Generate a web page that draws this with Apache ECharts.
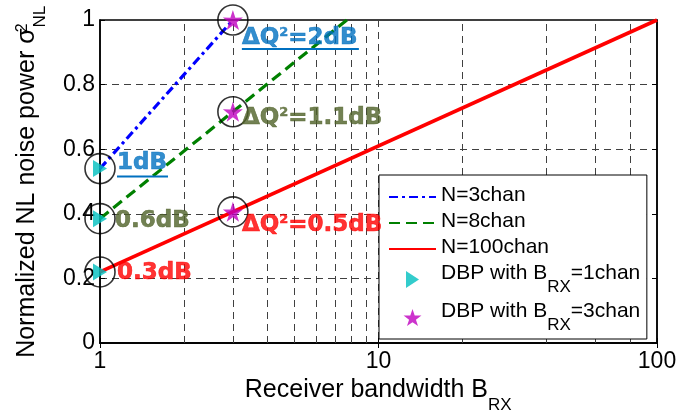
<!DOCTYPE html>
<html><head><meta charset="utf-8">
<script src="https://cdn.jsdelivr.net/npm/echarts@6/dist/echarts.min.js"></script>
<style>html,body{margin:0;padding:0;background:#fff}#c{width:678px;height:411px}</style>
</head><body><div id="c"></div>
<script>
// ---- data ----
const xTicks = [1, 10, 100];
const yTicks = [0, 0.2, 0.4, 0.6, 0.8, 1];
const minorGridX = [2, 3, 4, 5, 6, 7, 8, 9, 20, 40, 60, 80];
const n3 = [[1, 0.54], [3, 1.0]];
const n8 = [[1, 0.385], [7.7, 1.0]];
const n100 = [[1, 0.22], [100, 1.0]];
const dbp1 = [[1, 0.54], [1, 0.385], [1, 0.22]];
const dbp3 = [[3, 1.0], [3, 0.716], [3, 0.406]];
const dbp1Labels = ['1dB', '0.6dB', '0.3dB'];
const dbp3Labels = ['2dB', '1.1dB', '0.5dB'];

// ---- styles / layout ----
const axisFont = '"Liberation Sans", Arial, sans-serif';
const annFont = '"DejaVu Sans", sans-serif';
const annColors = ['#0070C0', '#4F6228', '#FF0000'];
const dbp1Offsets = [[17, -6], [15, 2], [17, 1]];
const dbp3Offsets = [[9, 18], [9, 6], [9, 13]];
const starPath = 'path://M50,0 L61.8,35.1 L97.6,34.5 L68.2,56.9 L79.4,90.5 L50,70 L20.6,90.5 L31.8,56.9 L2.4,34.5 L38.2,35.1 Z';
const triRightPath = 'path://M0,0 L13,8.5 L0,17 Z';
const gridLine = { type: [7, 5], color: '#404040', width: 1 };

function annLabel(text, i, off, withSup) {
  const c = annColors[i];
  return {
    show: true, position: 'inside', align: 'left', verticalAlign: 'middle',
    offset: off, color: c, fontFamily: annFont, fontWeight: 'bold', fontSize: 23,
    textBorderColor: c, textBorderWidth: 0.6,
    formatter: withSup ? ('ΔQ{sup|2}=' + text) : text,
    rich: { sup: { fontSize: 13, fontWeight: 'bold', fontFamily: annFont, color: c,
      textBorderColor: c, textBorderWidth: 0.4, verticalAlign: 'top', lineHeight: 12 } }
  };
}

const chart = echarts.init(document.getElementById('c'));
const baseY = {
  type: 'value', min: 0, max: 1, interval: 0.2,
  axisLine: { show: true, lineStyle: { color: '#000', width: 1.5 } },
  axisTick: { show: true, inside: true, length: 5, lineStyle: { color: '#000' } },
};
const option = {
  animation: false,
  backgroundColor: '#fff',
  grid: { left: 100, right: 21, top: 20, bottom: 68, show: true, borderColor: '#000', borderWidth: 1.5,
    outerBoundsMode: 'none', containLabel: false },
  xAxis: [{
    type: 'log', logBase: 10, min: 1, max: 100, position: 'bottom',
    axisLine: { show: true, lineStyle: { color: '#000', width: 1.5 } },
    axisTick: { show: true, inside: true, length: 5, lineStyle: { color: '#000' } },
    axisLabel: { color: '#000', fontFamily: axisFont, fontSize: 23, margin: 7,
      formatter: v => xTicks.includes(v) ? String(v) : '' },
    splitLine: { show: true, lineStyle: gridLine },
    name: '{n|Receiver bandwidth B}{sub|RX}{sp| }', nameLocation: 'middle', nameGap: 24,
    nameTextStyle: { rich: {
      n: { fontFamily: axisFont, fontSize: 25, color: '#000', lineHeight: 28, verticalAlign: 'top' },
      sub: { fontFamily: axisFont, fontSize: 17, color: '#000', lineHeight: 18, verticalAlign: 'bottom' },
      sp: { fontSize: 2, lineHeight: 36, verticalAlign: 'top' }
    } }
  }, {
    type: 'log', logBase: 10, min: 1, max: 100, position: 'top',
    axisLine: { show: true, lineStyle: { color: '#000', width: 1.5 } },
    axisTick: { show: true, inside: true, length: 5, lineStyle: { color: '#000' } },
    axisLabel: { show: false }, splitLine: { show: false }
  }],
  yAxis: [Object.assign({}, baseY, {
    position: 'left',
    axisLabel: { color: '#000', fontFamily: axisFont, fontSize: 23, margin: 5,
      formatter: v => String(yTicks.find(t => Math.abs(t - v) < 1e-9)) },
    splitLine: { show: true, lineStyle: gridLine },
    name: '{n|Normalized NL noise power σ}{sup|2}{sub|NL}{sp| }', nameLocation: 'middle', nameGap: 51,
    nameTextStyle: { rich: {
      n: { fontFamily: axisFont, fontSize: 25, color: '#000', lineHeight: 28, verticalAlign: 'top' },
      sup: { fontFamily: axisFont, fontSize: 16, color: '#000', lineHeight: 8, verticalAlign: 'top', width: 1 },
      sub: { fontFamily: axisFont, fontSize: 17, color: '#000', lineHeight: 18, verticalAlign: 'bottom' },
      sp: { fontSize: 2, lineHeight: 34, verticalAlign: 'top' }
    } }
  }), Object.assign({}, baseY, {
    position: 'right', axisLabel: { show: false }, splitLine: { show: false }
  })],
  legend: {
    orient: 'vertical', left: 379, top: 175,
    data: [
      { name: 'N=3chan', itemStyle: { opacity: 0 } },
      { name: 'N=8chan', itemStyle: { opacity: 0 } },
      { name: 'N=100chan', itemStyle: { opacity: 0 } },
      { name: 'DBP with B_RX=1chan', icon: triRightPath },
      { name: 'DBP with B_RX=3chan', icon: starPath }
    ],
    itemWidth: 47, itemHeight: 17, itemGap: 5,
    padding: [10, 6, 5, 9],
    backgroundColor: '#fff', borderColor: '#000', borderWidth: 1, borderRadius: 0,
    selectedMode: false,
    formatter: name => {
      if (name.indexOf('B_RX') >= 0) {
        const parts = name.split('B_RX');
        return '{n|' + parts[0] + 'B}{sub|RX}{n|' + parts[1] + '}{sp| }';
      }
      return '{n|' + name + '}';
    },
    textStyle: { rich: {
      n: { fontFamily: axisFont, fontSize: 21, color: '#000', lineHeight: 24, verticalAlign: 'top' },
      sub: { fontFamily: axisFont, fontSize: 17, color: '#000', lineHeight: 20, verticalAlign: 'bottom' },
      sp: { fontSize: 2, lineHeight: 33, verticalAlign: 'top' }
    } }
  },
  series: [
    { name: 'N=3chan', type: 'line', data: n3, symbol: 'none', showSymbol: false,
      lineStyle: { color: '#0000FF', width: 3.2, type: [9, 4, 3, 4] }, itemStyle: { color: '#0000FF' }, z: 3 },
    { name: 'N=8chan', type: 'line', data: n8, symbol: 'none', showSymbol: false,
      lineStyle: { color: '#008000', width: 3.2, type: [11, 6] }, itemStyle: { color: '#008000' }, z: 3 },
    { name: 'N=100chan', type: 'line', data: n100, symbol: 'none', showSymbol: false,
      lineStyle: { color: '#FF0000', width: 3.6, type: 'solid' }, itemStyle: { color: '#FF0000' }, z: 3,
      markLine: { silent: true, symbol: ['none', 'none'], label: { show: false }, lineStyle: gridLine,
        emphasis: { disabled: true }, z: 1,
        data: minorGridX.map(v => ({ xAxis: v })) } },
    { name: 'circles', type: 'scatter', data: dbp1.concat(dbp3), symbol: 'circle', symbolSize: 30,
      itemStyle: { color: 'rgba(0,0,0,0)', borderColor: '#000', borderWidth: 1.6 }, z: 4, silent: true },
    { name: 'DBP with B_RX=1chan', type: 'scatter', symbol: 'triangle', symbolSize: [17, 14], symbolRotate: -90,
      itemStyle: { color: '#00BFBF' }, z: 5,
      data: dbp1.map((p, i) => ({ value: p, label: annLabel(dbp1Labels[i], i, dbp1Offsets[i], false) })) },
    { name: 'DBP with B_RX=3chan', type: 'scatter', symbol: starPath, symbolSize: 20,
      itemStyle: { color: '#BF00BF' }, z: 5,
      data: dbp3.map((p, i) => ({ value: p, label: annLabel(dbp3Labels[i], i, dbp3Offsets[i], true) })) }
  ]
};
chart.setOption(option);

// underline the blue annotations
const p2 = chart.convertToPixel({ xAxisIndex: 0, yAxisIndex: 0 }, dbp3[0]);
const p1 = chart.convertToPixel({ xAxisIndex: 0, yAxisIndex: 0 }, dbp1[0]);
chart.setOption({ graphic: [
  { type: 'rect', shape: { x: p2[0] + 9, y: p2[1] + 28, width: 117, height: 2 }, style: { fill: annColors[0] }, z: 10 },
  { type: 'rect', shape: { x: p1[0] + 17, y: p1[1] + 7, width: 51, height: 2 }, style: { fill: annColors[0] }, z: 10 }
] });
</script></body></html>
